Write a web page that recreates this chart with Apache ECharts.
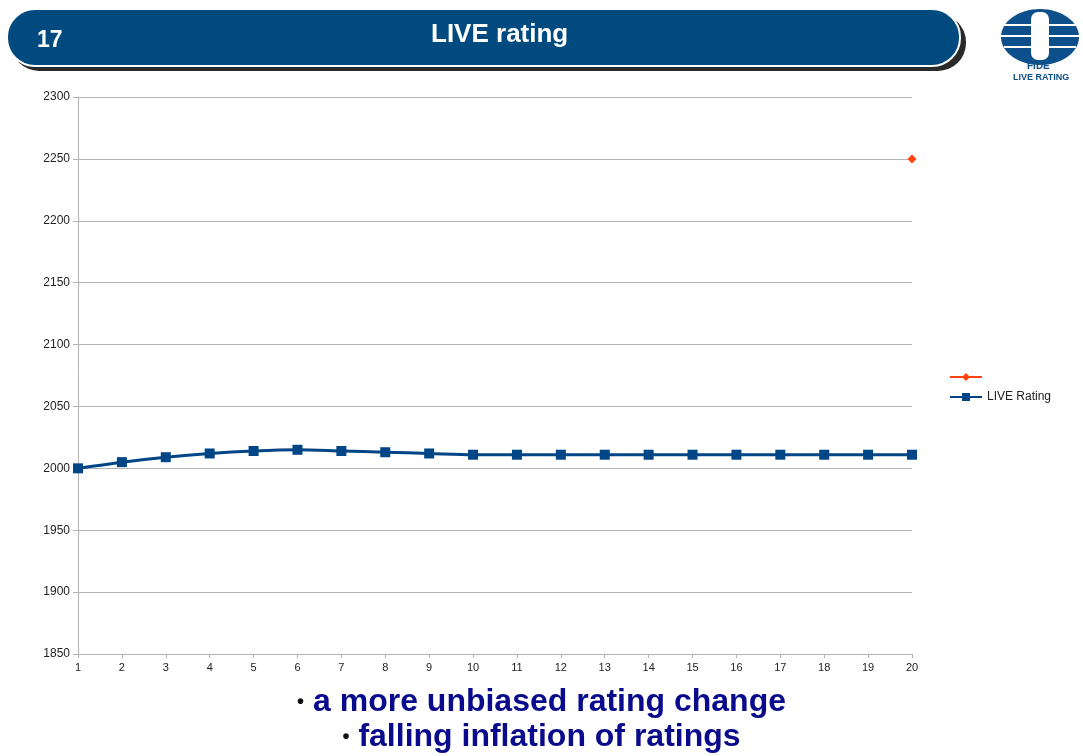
<!DOCTYPE html>
<html>
<head>
<meta charset="utf-8">
<script src="https://cdn.jsdelivr.net/npm/echarts@6/dist/echarts.min.js"></script>
<style>
    html, body { margin: 0; padding: 0; background: #fff; }
    #main { width: 1083px; height: 756px; }
</style>
</head>
<body>
<div id="main"></div>
<script>
// data
const rounds = ['1', '2', '3', '4', '5', '6', '7', '8', '9', '10',
    '11', '12', '13', '14', '15', '16', '17', '18', '19', '20'];
const liveRating = [2000, 2005, 2009, 2012, 2014, 2015, 2014, 2013, 2012, 2011,
    2011, 2011, 2011, 2011, 2011, 2011, 2011, 2011, 2011, 2011];
// single orange point at round 20
const targetRating = [null, null, null, null, null, null, null, null, null, null,
    null, null, null, null, null, null, null, null, null, 2250];
const slideNo = '17';
const slideTitle = 'LIVE rating';
const bullets = ['a more unbiased rating change', 'falling inflation of ratings'];

let myChart = echarts.init(document.getElementById('main'));

const fontMain = 'Liberation Sans, Arial, sans-serif';

// bullet line with a small black dot in front
function bulletText(txt, top) {
    return {
        type: 'text', z: 12, left: 'center', top: top,
        style: {
            text: '{d|•}{t|' + txt + '}',
            rich: {
                d: { fill: '#111', font: 'bold 20px ' + fontMain, verticalAlign: 'middle', padding: [0, 9, 0, 0] },
                t: { fill: '#0a0a8c', font: 'bold 32px ' + fontMain }
            }
        }
    }
}

myChart.setOption({
    backgroundColor: '#fff',
    animation: false,
    grid: { left: 78, right: 171, top: 97, bottom: 102 },
    legend: {
        orient: 'vertical',
        left: 944,
        top: 366,
        itemWidth: 32,
        itemHeight: 10,
        itemGap: 8,
        textStyle: { fontFamily: fontMain, fontSize: 12, color: '#222' },
        data: [' ', 'LIVE Rating']
    },
    xAxis: {
        type: 'category',
        boundaryGap: false,
        data: rounds,
        axisLine: { lineStyle: { color: '#b3b3b3' } },
        axisTick: { show: true, length: 4, lineStyle: { color: '#b3b3b3' } },
        axisLabel: { color: '#222', fontFamily: fontMain, fontSize: 11, margin: 8 },
        splitLine: { show: false }
    },
    yAxis: {
        type: 'value',
        min: 1850,
        max: 2300,
        interval: 50,
        axisLine: { show: true, lineStyle: { color: '#b3b3b3' } },
        axisTick: { show: true, length: 5, lineStyle: { color: '#b3b3b3' } },
        axisLabel: {
            color: '#222', fontFamily: fontMain, fontSize: 12, margin: 8,
            formatter: v => String(v)
        },
        splitLine: { lineStyle: { color: '#b3b3b3' } }
    },
    series: [
        {
            name: ' ',
            type: 'line',
            data: targetRating,
            symbol: 'diamond',
            symbolSize: 9,
            itemStyle: { color: '#ff420e' },
            lineStyle: { color: '#ff420e', width: 3 },
            z: 3
        },
        {
            name: 'LIVE Rating',
            type: 'line',
            data: liveRating,
            smooth: 0.3,
            symbol: 'rect',
            symbolSize: 10,
            itemStyle: { color: '#004586' },
            lineStyle: { color: '#004586', width: 3 },
            z: 2
        }
    ],
    graphic: [
        // banner shadow
        {
            type: 'rect', z: 10,
            shape: { x: 11, y: 14, width: 955, height: 57, r: 28 },
            style: { fill: '#2a2a2a' }
        },
        {
            type: 'rect', z: 11,
            shape: { x: 7, y: 9, width: 953, height: 57, r: 28 },
            style: { fill: '#004a80', stroke: '#ffffff', lineWidth: 2 }
        },
        {
            type: 'text', z: 12, left: 37, top: 29,
            style: { text: slideNo, fill: '#fff', font: 'bold 23px ' + fontMain }
        },
        {
            type: 'text', z: 12, left: 431, top: 22,
            style: { text: slideTitle, fill: '#fff', font: 'bold 26px ' + fontMain }
        },
        // FIDE logo (rough)
        {
            type: 'ellipse', z: 10,
            shape: { cx: 1040, cy: 37, rx: 39, ry: 28 },
            style: { fill: '#0d4f8b' }
        },
        { type: 'line', z: 11, shape: { x1: 1004, y1: 25, x2: 1076, y2: 25 }, style: { stroke: '#fff', lineWidth: 2 } },
        { type: 'line', z: 11, shape: { x1: 1001, y1: 36, x2: 1079, y2: 36 }, style: { stroke: '#fff', lineWidth: 2 } },
        { type: 'line', z: 11, shape: { x1: 1004, y1: 47, x2: 1076, y2: 47 }, style: { stroke: '#fff', lineWidth: 2 } },
        { type: 'rect', z: 12, shape: { x: 1031, y: 12, width: 18, height: 48, r: 7 }, style: { fill: '#fff' } },
        {
            type: 'text', z: 13, left: 1027, top: 61,
            style: { text: 'FIDE', fill: '#0d4f8b', font: 'bold 10px ' + fontMain }
        },
        {
            type: 'text', z: 13, left: 1013, top: 73,
            style: { text: 'LIVE RATING', fill: '#0d4f8b', font: 'bold 9px ' + fontMain }
        },
        // bullet lines under the chart
        bulletText(bullets[0], 686),
        bulletText(bullets[1], 721)
    ]
});
</script>
</body>
</html>
